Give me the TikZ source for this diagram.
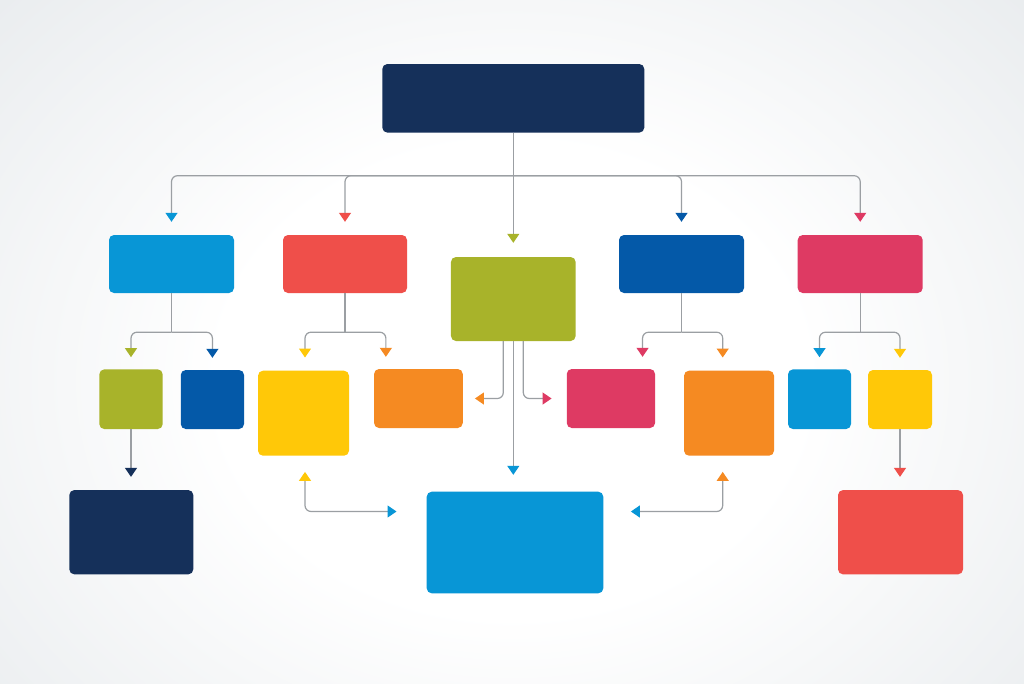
\documentclass[tikz,border=0pt]{standalone}
\usetikzlibrary{arrows.meta,calc}
\definecolor{navy}{HTML}{15305A}
\definecolor{lblue}{HTML}{0896D6}
\definecolor{red}{HTML}{EF4F4A}
\definecolor{green}{HTML}{A8B32A}
\definecolor{dblue}{HTML}{0459A8}
\definecolor{pink}{HTML}{DE3A63}
\definecolor{yellow}{HTML}{FFC808}
\definecolor{orange}{HTML}{F58A22}
\definecolor{linec}{HTML}{9B9FA3}
\definecolor{bgmid}{HTML}{DADFE3}
\definecolor{bgedge}{HTML}{CBD2D7}
\pgfdeclareradialshading{bgshade}{\pgfpoint{0bp}{0bp}}{color(0bp)=(white); color(14bp)=(white); color(48bp)=(bgmid); color(72bp)=(bgedge)}
\begin{document}
\begin{tikzpicture}[x=1pt,y=-1pt,
  box/.style={fill=#1, draw=none, rounded corners=5pt, inner sep=0pt},
  conn/.style={draw=linec, line width=1.2pt, rounded corners=6pt},
  tip/.style={-{Triangle[width=12pt,length=9pt,color=#1]}},
  tips/.style 2 args={{Triangle[width=12pt,length=9pt,color=#1]}-{Triangle[width=12pt,length=9pt,color=#2]}}]
\useasboundingbox (0,0) rectangle (1024,683);
\begin{scope}
\clip (0,0) rectangle (1024,683);
\shade[shading=bgshade] (-10,-40) rectangle (1034,800);
\end{scope}

% boxes
\node[box=navy,  minimum width=262pt,  minimum height=68.6pt] (top)   at (513.3,98.3) {};
\node[box=lblue, minimum width=125pt,  minimum height=58pt]   (b1)    at (171.5,264) {};
\node[box=red,   minimum width=124pt,  minimum height=58pt]   (b2)    at (345,264) {};
\node[box=green, minimum width=124.7pt,minimum height=84pt]   (green) at (513.3,299) {};
\node[box=dblue, minimum width=125pt,  minimum height=58pt]   (b4)    at (681.5,264) {};
\node[box=pink,  minimum width=125pt,  minimum height=58pt]   (b5)    at (860.2,264) {};
\node[box=green, minimum width=63.4pt, minimum height=59.7pt] (c1)    at (131,399.2) {};
\node[box=dblue, minimum width=63.3pt, minimum height=59pt]   (c2)    at (212.4,399.5) {};
\node[box=yellow,minimum width=91pt,   minimum height=85pt]   (c3)    at (303.5,413.2) {};
\node[box=orange,minimum width=88.7pt, minimum height=59pt]   (c4)    at (418.4,398.5) {};
\node[box=pink,  minimum width=88.3pt, minimum height=59pt]   (c5)    at (610.9,398.5) {};
\node[box=orange,minimum width=90pt,   minimum height=85pt]   (c6)    at (729,413.2) {};
\node[box=lblue, minimum width=63pt,   minimum height=59.7pt] (c7)    at (819.5,399.2) {};
\node[box=yellow,minimum width=64pt,   minimum height=59pt]   (c8)    at (900,399.5) {};
\node[box=navy,  minimum width=124pt,  minimum height=84.3pt] (d1)    at (131.3,532.2) {};
\node[box=lblue, minimum width=176.6pt,minimum height=101.6pt](d2)    at (515,542.5) {};
\node[box=red,   minimum width=125pt,  minimum height=84.3pt] (d3)    at (900.5,532.2) {};

% top level
\coordinate (hub) at (513.3,175.7);
\draw[conn] (top.south) -- (hub);
\draw[conn,tip=lblue,shorten >=13pt] (hub) -| (b1.north);
\draw[conn,tip=red,shorten >=13pt] (hub) -| (b2.north);
\draw[conn,tip=dblue,shorten >=13pt] (hub) -| (b4.north);
\draw[conn,tip=pink,shorten >=13pt] (hub) -| (b5.north);
\draw[conn,tip=green,shorten >=14pt] (top.south) -- (green.north);

% second level junctions
\coordinate (j1) at ($(b1.south)+(0,39)$);
\coordinate (j2) at ($(b2.south)+(0,39)$);
\coordinate (j4) at ($(b4.south)+(0,39)$);
\coordinate (j5) at ($(b5.south)+(0,39)$);
\draw[conn] (b1.south) -- (j1);
\draw[conn] (b2.south) -- (j2);
\draw[conn] (b4.south) -- (j4);
\draw[conn] (b5.south) -- (j5);
\draw[conn,tip=green,shorten >=12pt] (j1) -| (c1.north);
\draw[conn,tip=dblue,shorten >=12pt] (j1) -| (c2.north);
\draw[conn,tip=yellow,shorten >=13pt] (j2) -| ($(c3.north)+(1.5,0)$);
\draw[conn,tip=orange,shorten >=12pt] (j2) -| ($(c4.north west)+(12,0)$);
\draw[conn,tip=pink,shorten >=12pt] (j4) -| ($(c5.north east)+(-12.7,0)$);
\draw[conn,tip=orange,shorten >=13pt] (j4) -| ($(c6.north)+(-6.3,0)$);
\draw[conn,tip=lblue,shorten >=12pt] (j5) -| (c7.north);
\draw[conn,tip=yellow,shorten >=12pt] (j5) -| (c8.north);

% from green centre box
\draw[conn,tip=orange,shorten >=12pt] ($(green.south)+(-10,0)$) |- (c4.east);
\draw[conn,tip=pink,shorten >=15pt] ($(green.south)+(10,0)$) |- (c5.west);
\draw[conn,tip=lblue,shorten >=16.7pt] (green.south) -- (green.south |- d2.north);

% third level
\draw[conn,tip=navy,shorten >=13pt] (c1.south) -- (c1.south |- d1.north);
\draw[conn,tip=red,shorten >=13pt] (c8.south) -- (c8.south |- d3.north);

% double-headed connectors
\draw[conn,tips={yellow}{lblue},shorten <=16pt,shorten >=30pt] ($(c3.south)+(1.5,0)$) |- ($(d2.north west)+(0,20)$);
\draw[conn,tips={orange}{lblue},shorten <=16pt,shorten >=27.4pt] ($(c6.south)+(-6.3,0)$) |- ($(d2.north east)+(0,20)$);
\end{tikzpicture}
\end{document}
